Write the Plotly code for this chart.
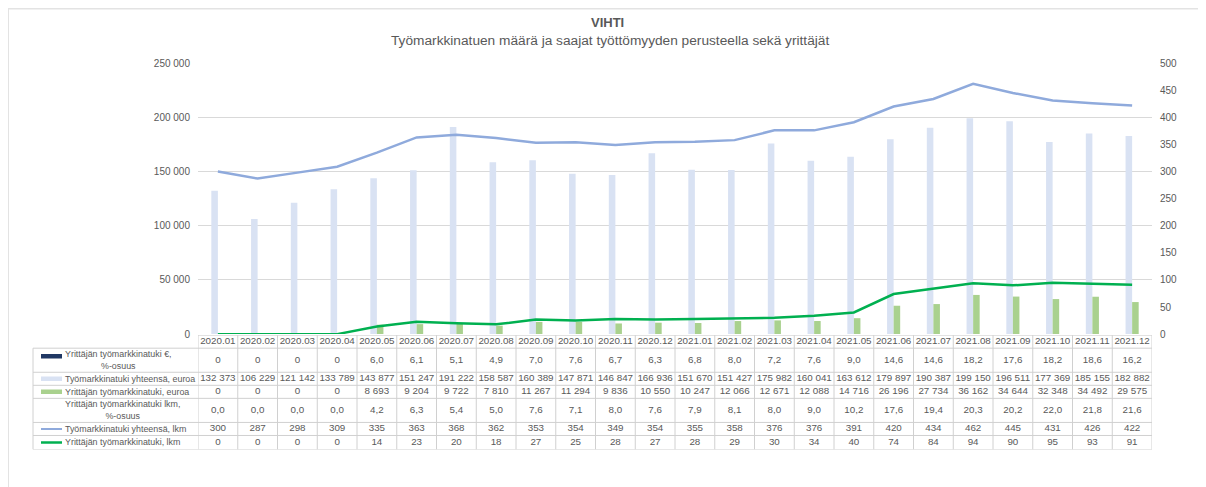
import plotly.graph_objects as go

months = ['2020.01', '2020.02', '2020.03', '2020.04', '2020.05', '2020.06', '2020.07', '2020.08',
          '2020.09', '2020.10', '2020.11', '2020.12', '2021.01', '2021.02', '2021.03', '2021.04',
          '2021.05', '2021.06', '2021.07', '2021.08', '2021.09', '2021.10', '2021.11', '2021.12']
yrittaja_eur_pct = [0, 0, 0, 0, 6.0, 6.1, 5.1, 4.9, 7.0, 7.6, 6.7, 6.3, 6.8, 8.0, 7.2, 7.6,
                    9.0, 14.6, 14.6, 18.2, 17.6, 18.2, 18.6, 16.2]
tmt_yht_eur = [132373, 106229, 121142, 133789, 143877, 151247, 191222, 158587, 160389, 147871,
               146847, 166936, 151670, 151427, 175982, 160041, 163612, 179897, 190387, 199150,
               196511, 177369, 185155, 182882]
yrittaja_eur = [0, 0, 0, 0, 8693, 9204, 9722, 7810, 11267, 11294, 9836, 10550, 10247, 12066,
                12671, 12088, 14716, 26196, 27734, 36162, 34644, 32348, 34492, 29575]
yrittaja_lkm_pct = [0.0, 0.0, 0.0, 0.0, 4.2, 6.3, 5.4, 5.0, 7.6, 7.1, 8.0, 7.6, 7.9, 8.1, 8.0, 9.0,
                    10.2, 17.6, 19.4, 20.3, 20.2, 22.0, 21.8, 21.6]
tmt_yht_lkm = [300, 287, 298, 309, 335, 363, 368, 362, 353, 354, 349, 354, 355, 358, 376, 376,
               391, 420, 434, 462, 445, 431, 426, 422]
yrittaja_lkm = [0, 0, 0, 0, 14, 23, 20, 18, 27, 25, 28, 27, 28, 29, 30, 34, 40, 74, 84, 94, 90,
                95, 93, 91]

# page offset / vertical scale observed in the rendered screenshot
OFF_X, OFF_Y, SY = 8, 13, 0.974
W, H = 1190, 487
TXT = '#595959'
GRID = '#d9d9d9'
FONT = 'Liberation Sans, Arial, sans-serif'
FS = 9.8
LFS = 8.9


def px(x):
    return (x - OFF_X) / W


def py(y):
    return 1 - ((y - OFF_Y) / SY) / H


def fmt_int(v):
    return f"{v:,}".replace(',', ' ')


def fmt_dec(v):
    return f"{v:.1f}".replace('.', ',')


fig = go.Figure()

fig.add_trace(go.Bar(x=months, y=tmt_yht_eur, name='Työmarkkinatuki yhteensä, euroa',
                     marker=dict(color='#d9e2f3', line=dict(width=0))))
fig.add_trace(go.Bar(x=months, y=yrittaja_eur, name='Yrittäjän työmarkkinatuki, euroa',
                     marker=dict(color='#a9d18e', line=dict(width=0))))
fig.add_trace(go.Scatter(x=months, y=tmt_yht_lkm, name='Työmarkkinatuki yhteensä, lkm',
                         mode='lines', line=dict(color='#8faadc', width=2.5), yaxis='y2',
                         cliponaxis=False))
fig.add_trace(go.Scatter(x=months, y=yrittaja_lkm, name='Yrittäjän työmarkkinatuki, lkm',
                         mode='lines', line=dict(color='#00b050', width=2.5), yaxis='y2',
                         cliponaxis=False))

# table rows: (label, cell texts, legend key style)
row_edges = [334, 347, 371, 384, 397, 421, 434, 448]
rows = [
    ('Yrittäjän työmarkkinatuki €,<br>%-osuus', [fmt_dec(v) if v else '0' for v in yrittaja_eur_pct],
     dict(color='#203864', width=4.5)),
    ('Työmarkkinatuki yhteensä, euroa', [fmt_int(v) for v in tmt_yht_eur],
     dict(color='#d9e2f3', width=4.5)),
    ('Yrittäjän työmarkkinatuki, euroa', [fmt_int(v) for v in yrittaja_eur],
     dict(color='#a9d18e', width=4.5)),
    ('Yrittäjän työmarkkinatuki lkm,<br>%-osuus', [fmt_dec(v) for v in yrittaja_lkm_pct], None),
    ('Työmarkkinatuki yhteensä, lkm', [fmt_int(v) for v in tmt_yht_lkm],
     dict(color='#8faadc', width=2)),
    ('Yrittäjän työmarkkinatuki, lkm', [fmt_int(v) for v in yrittaja_lkm],
     dict(color='#00b050', width=2.5)),
]

# header + cell text as text traces on a hidden table axis (y3, in table pixel rows)
fig.add_trace(go.Scatter(x=months, y=[(row_edges[0] + row_edges[1]) / 2] * len(months),
                         text=months, mode='text', yaxis='y3', cliponaxis=False,
                         textfont=dict(size=FS, color=TXT, family=FONT), hoverinfo='skip'))
for r, (label, vals, key) in enumerate(rows):
    cy = (row_edges[r + 1] + row_edges[r + 2]) / 2
    fig.add_trace(go.Scatter(x=months, y=[cy] * len(months), text=vals, mode='text',
                             yaxis='y3', cliponaxis=False, hoverinfo='skip',
                             textfont=dict(size=FS, color=TXT, family=FONT)))

fig.update_layout(
    width=W, height=H,
    margin=dict(l=0, r=0, t=0, b=0),
    paper_bgcolor='white', plot_bgcolor='rgba(0,0,0,0)',
    separators=', ',
    showlegend=False,
    barmode='group', bargap=0.67, bargroupgap=0,
    font=dict(family=FONT, size=10, color=TXT),
    xaxis=dict(domain=[px(198), px(1152)], type='category', range=[-0.5, 23.5],
               showticklabels=False, showgrid=False, zeroline=False, showline=False),
    yaxis=dict(domain=[py(333), py(63)], range=[0, 250000], dtick=50000, tickformat=',d',
               showgrid=True, gridcolor=GRID, gridwidth=1, zeroline=False,
               showline=False, ticks='outside', ticklen=5, tickcolor='rgba(0,0,0,0)',
               tickfont=dict(size=10, color=TXT)),
    yaxis2=dict(overlaying='y', side='right', range=[0, 500], dtick=50, showgrid=False,
                zeroline=False, showline=False, ticks='outside', ticklen=5,
                tickcolor='rgba(0,0,0,0)', tickfont=dict(size=10, color=TXT)),
    yaxis3=dict(domain=[py(row_edges[-1]), py(row_edges[0])],
                range=[row_edges[-1], row_edges[0]], visible=False, anchor='x'),
)

shapes = []
annotations = []

# outer frame
shapes.append(dict(type='rect', xref='paper', yref='paper', x0=px(8), x1=1.1, y0=-0.1,
                   y1=py(8.5), line=dict(color='#e3e3e3', width=2), layer='below'))

# title
annotations.append(dict(text='<b>VIHTI</b>', xref='paper', yref='paper', x=px(607), y=py(22),
                        xanchor='center', yanchor='middle', showarrow=False,
                        font=dict(size=13, color=TXT)))
annotations.append(dict(text='Työmarkkinatuen määrä ja saajat työttömyyden perusteella sekä yrittäjät',
                        xref='paper', yref='paper', x=px(610), y=py(40),
                        xanchor='center', yanchor='middle', showarrow=False,
                        font=dict(size=13.7, color=TXT)))

line_style = dict(color='#d0d0d0', width=1)
# horizontal table lines
shapes.append(dict(type='line', xref='x', yref='y3', x0=-0.5, x1=23.5, layer='below',
                   y0=row_edges[0], y1=row_edges[0], line=line_style))
for e in row_edges[1:]:
    shapes.append(dict(type='line', xref='paper', yref='y3', x0=px(33), x1=px(1152),
                       y0=e, y1=e, line=line_style, layer='below'))
# vertical table lines
shapes.append(dict(type='line', xref='paper', yref='y3', x0=px(33), x1=px(33), layer='below',
                   y0=row_edges[1], y1=row_edges[-1], line=line_style))
for i in range(len(months) + 1):
    shapes.append(dict(type='line', xref='x', yref='y3', x0=i - 0.5, x1=i - 0.5, layer='below',
                       y0=row_edges[0], y1=row_edges[-1], line=line_style))

# row labels with legend keys
for r, (label, vals, key) in enumerate(rows):
    cy = (row_edges[r + 1] + row_edges[r + 2]) / 2
    two_line = '<br>' in label
    if key is not None:
        ky = cy - 4 if two_line else cy
        shapes.append(dict(type='line', xref='paper', yref='y3', x0=px(41), x1=px(62),
                           y0=ky, y1=ky, line=key))
    if two_line:
        cx = 118 if key is not None else 122
        annotations.append(dict(text=label, xref='paper', yref='y3', x=px(cx), y=cy,
                                xanchor='center', yanchor='middle', align='center',
                                showarrow=False, font=dict(size=LFS, color=TXT)))
    else:
        annotations.append(dict(text=label, xref='paper', yref='y3', x=px(63), y=cy,
                                xanchor='left', yanchor='middle', showarrow=False,
                                font=dict(size=LFS, color=TXT)))

fig.update_layout(shapes=shapes, annotations=annotations)

fig.write_html("out.html")
